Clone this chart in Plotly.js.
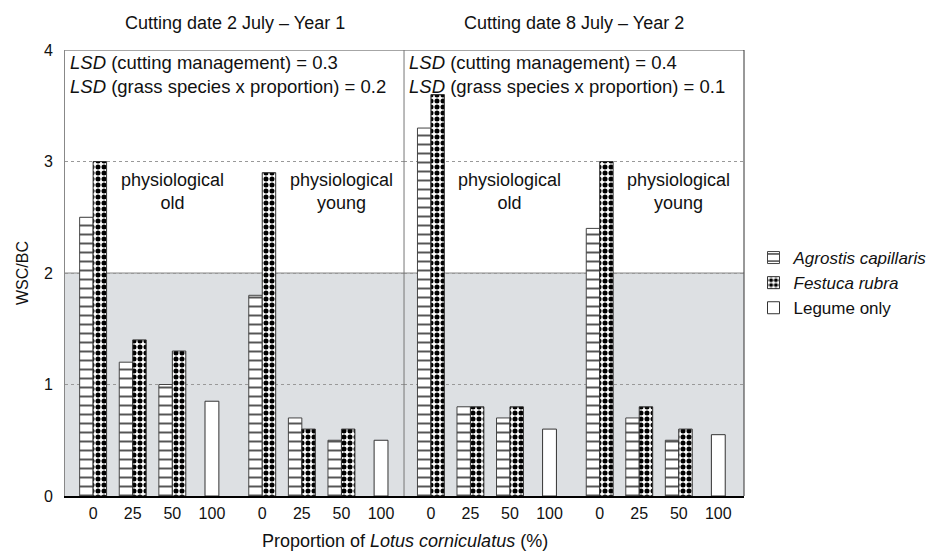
<!DOCTYPE html>
<html><head><meta charset="utf-8">
<script src="https://cdn.plot.ly/plotly-3.0.1.min.js"></script>
<style>html,body{margin:0;padding:0;background:#fff}#chart{width:944px;height:553px}</style>
</head><body><div id="chart"></div>
<script>
// ---- data ----
const tickLabels = ["0","25","50","100","0","25","50","100"];
const panelTitles = ["Cutting date 2 July \u2013 Year 1", "Cutting date 8 July \u2013 Year 2"];
const lsdCutting = [0.3, 0.4];
const lsdGrass = [0.2, 0.1];
const stageLabels = ["physiological<br>old", "physiological<br>young"];
const seriesNames = ["Agrostis capillaris", "Festuca rubra", "Legume only"];
// Year 1 (cutting date 2 July)
const agrostisY1 = [2.5, 1.2, 1.0, null, 1.8, 0.7, 0.5, null];
const festucaY1  = [3.0, 1.4, 1.3, null, 2.9, 0.6, 0.6, null];
const legumeY1   = [null, null, null, 0.85, null, null, null, 0.5];
// Year 2 (cutting date 8 July)
const agrostisY2 = [3.3, 0.8, 0.7, null, 2.4, 0.7, 0.5, null];
const festucaY2  = [3.6, 0.8, 0.8, null, 3.0, 0.8, 0.6, null];
const legumeY2   = [null, null, null, 0.6, null, null, null, 0.55];

// ---- layout helpers ----
const FONT = "Arial, 'Liberation Sans', sans-serif";
const pos = tickLabels.map((_, i) => i + (i >= 4 ? 0.27 : 0));
const BW = 0.34;
const split = 0.4993;

const panels = [
  {xa: "x", a: agrostisY1, f: festucaY1, l: legumeY1},
  {xa: "x2", a: agrostisY2, f: festucaY2, l: legumeY2}
];
const traces = [];
panels.forEach((p, k) => {
  traces.push({
    type: "bar", x: pos, y: p.a, xaxis: p.xa, yaxis: "y",
    name: "<i>" + seriesNames[0] + "</i>", showlegend: k === 0,
    width: BW, offset: -BW,
    marker: {color: "#ffffff", line: {color: "#444", width: 1},
      pattern: {shape: "-", size: 9, solidity: 0.22, fgcolor: "#555", bgcolor: "#ffffff", fillmode: "replace"}},
    hoverinfo: "skip"
  });
  traces.push({
    type: "bar", x: pos, y: p.f, xaxis: p.xa, yaxis: "y",
    name: "<i>" + seriesNames[1] + "</i>", showlegend: k === 0,
    width: BW, offset: 0,
    marker: {color: "#ffffff", line: {color: "#333", width: 1},
      pattern: {shape: ".", size: 6, solidity: 0.55, fgcolor: "#000", bgcolor: "#ffffff", fillmode: "replace"}},
    hoverinfo: "skip"
  });
  traces.push({
    type: "bar", x: pos, y: p.l, xaxis: p.xa, yaxis: "y",
    name: seriesNames[2], showlegend: k === 0,
    width: BW + 0.01, offset: -(BW + 0.01) / 2,
    marker: {color: "#ffffff", line: {color: "#333", width: 1}},
    hoverinfo: "skip"
  });
});

const xCommon = {
  tickmode: "array", tickvals: pos, ticktext: tickLabels,
  showgrid: false, zeroline: false, showline: true, linecolor: "#000", linewidth: 1.5,
  ticks: "", ticklabelstandoff: 2, tickfont: {family: FONT, size: 16, color: "#111"},
  anchor: "y", fixedrange: true
};

const shapes = [];
["x", "x2"].forEach(xa => {
  shapes.push({type: "rect", xref: xa + " domain", yref: "y", x0: 0, x1: 1, y0: 0, y1: 2,
    fillcolor: "#dde0e3", line: {width: 0}, layer: "below"});
  shapes.push({type: "line", xref: xa + " domain", yref: "y", x0: 0, x1: 1, y0: 2, y1: 2,
    line: {color: "#888", width: 1}, layer: "below"});
});
shapes.push({type: "line", xref: "paper", yref: "y", x0: 0, x1: 1, y0: 4, y1: 4, line: {color: "#888", width: 1.5}});
shapes.push({type: "line", xref: "paper", yref: "y", x0: split, x1: split, y0: 0, y1: 4, line: {color: "#777", width: 1}});
shapes.push({type: "line", xref: "paper", yref: "y", x0: 1, x1: 1, y0: 0, y1: 4, line: {color: "#333", width: 1}});

const annotations = [];
["x", "x2"].forEach((xa, k) => {
  annotations.push({xref: xa + " domain", yref: "paper", x: 0.5, y: 1.088, showarrow: false,
    text: panelTitles[k], font: {family: FONT, size: 18, color: "#111"}});
  annotations.push({xref: xa + " domain", yref: "y", x: 0.008, y: 4.0, xanchor: "left", yanchor: "top",
    align: "left", showarrow: false,
    text: "<i>LSD</i> (cutting management) = " + lsdCutting[k] + "<br><i>LSD</i> (grass species x proportion) = " + lsdGrass[k],
    font: {family: FONT, size: 18.5, color: "#111"}});
  annotations.push({xref: xa, yref: "y", x: pos[2], y: 2.73, showarrow: false, text: stageLabels[0],
    font: {family: FONT, size: 18, color: "#111"}});
  annotations.push({xref: xa, yref: "y", x: pos[6], y: 2.73, showarrow: false, text: stageLabels[1],
    font: {family: FONT, size: 18, color: "#111"}});
});
annotations.push({xref: "paper", yref: "paper", x: 0.5, y: -0.101, yanchor: "middle", showarrow: false,
  text: "Proportion of <i>Lotus corniculatus</i> (%)", font: {family: FONT, size: 18, color: "#111"}});

const layout = {
  width: 944, height: 553,
  margin: {l: 65, r: 196, t: 50, b: 57},
  paper_bgcolor: "#fff", plot_bgcolor: "#fff",
  barmode: "overlay",
  font: {family: FONT, size: 16, color: "#111"},
  xaxis: Object.assign({}, xCommon, {domain: [0, split], range: [-0.71, 7.85]}),
  xaxis2: Object.assign({}, xCommon, {domain: [split, 1], range: [-0.68, 7.92]}),
  yaxis: {
    domain: [0, 1], range: [0, 4], tickvals: [0, 1, 2, 3, 4], ticks: "",
    showline: true, linecolor: "#888", linewidth: 1, zeroline: false,
    showgrid: true, gridcolor: "#999", griddash: "dot", gridwidth: 1,
    ticklabelstandoff: 8, tickfont: {family: FONT, size: 16, color: "#111"},
    title: {text: "WSC/BC", font: {family: FONT, size: 16, color: "#111"}, standoff: 11},
    fixedrange: true
  },
  legend: {x: 1.014, y: 0.574, xanchor: "left", yanchor: "top", bgcolor: "rgba(0,0,0,0)",
    font: {family: FONT, size: 17, color: "#111"}, itemwidth: 30, tracegroupgap: 0},
  shapes: shapes,
  annotations: annotations,
  showlegend: true
};

Plotly.newPlot("chart", traces, layout, {displayModeBar: false, staticPlot: true});
</script>
</body></html>
